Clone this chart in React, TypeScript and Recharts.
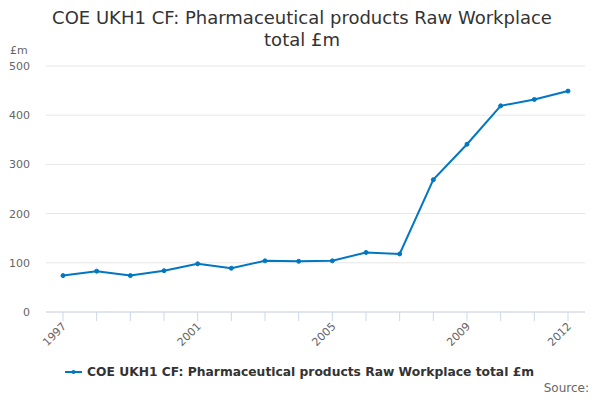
import React from "react";
import { LineChart, Line, XAxis, YAxis, CartesianGrid } from "recharts";

const years = ["1997", "1998", "1999", "2000", "2001", "2002", "2003", "2004", "2005", "2006", "2007", "2008", "2009", "2010", "2011", "2012"];
const values = [74, 83, 74, 84, 98, 89, 104, 103, 104, 121, 118, 269, 341, 419, 432, 449];
const yTicks = [0, 100, 200, 300, 400, 500];
const labelledYears = ["1997", "2001", "2005", "2009", "2012"];

const seriesName = "COE UKH1 CF: Pharmaceutical products Raw Workplace total £m";
const BLUE = "#0077c0";
const FONT = "'DejaVu Sans', sans-serif";

const data = years.map((y, i) => ({ year: y, value: values[i] }));

function YearTick({ x, y, payload }: any) {
    if (!labelledYears.includes(payload.value)) return null;
    return (
        <text
            x={x + 4}
            y={y + 4}
            transform={`rotate(-45, ${x + 4}, ${y + 4})`}
            textAnchor="end"
            fontSize={11}
            fill="#666"
            fontFamily={FONT}
        >
            {payload.value}
        </text>
    );
}

export default function App() {
    return (
        <div style={{ position: "absolute", left: 0, top: 0, width: 600, height: 400, fontFamily: FONT, background: "#fff" }}>
            <div
                style={{
                    position: "absolute",
                    left: 42,
                    width: 520,
                    top: 7,
                    textAlign: "center",
                    fontSize: 18,
                    lineHeight: "22px",
                    color: "#333",
                }}
            >
                {seriesName}
            </div>
            <div style={{ position: "absolute", left: 10, top: 44, fontSize: 11, color: "#666" }}>£m</div>

            <LineChart width={600} height={400} data={data} margin={{ top: 66, right: 15, bottom: 48, left: 0 }}>
                <CartesianGrid vertical={false} stroke="#e6e6e6" />
                <XAxis
                    dataKey="year"
                    interval={0}
                    height={40}
                    padding={{ left: 17, right: 17 }}
                    tick={<YearTick />}
                    tickSize={9}
                    axisLine={{ stroke: "#ccd6eb" }}
                    tickLine={{ stroke: "#ccd6eb" }}
                />
                <YAxis
                    domain={[0, 500]}
                    ticks={yTicks}
                    width={46}
                    axisLine={false}
                    tickLine={false}
                    tickSize={6}
                    tickMargin={10}
                    tick={{ fontSize: 11, fill: "#666", fontFamily: FONT }}
                />
                <Line
                    dataKey="value"
                    stroke={BLUE}
                    strokeWidth={2}
                    dot={{ r: 2, fill: BLUE, stroke: BLUE, strokeWidth: 1 }}
                    isAnimationActive={false}
                />
            </LineChart>

            <div
                style={{
                    position: "absolute",
                    left: 65,
                    top: 365,
                    display: "flex",
                    alignItems: "center",
                    fontSize: 12.3,
                    fontWeight: "bold",
                    color: "#333",
                }}
            >
                <svg width={17} height={10} style={{ marginRight: 5 }}>
                    <line x1={0} y1={5} x2={17} y2={5} stroke={BLUE} strokeWidth={2} />
                    <circle cx={8.5} cy={5} r={2} fill={BLUE} />
                </svg>
                {seriesName}
            </div>
            <div style={{ position: "absolute", right: 11, top: 381, fontSize: 12, color: "#666" }}>Source:</div>
        </div>
    );
}
